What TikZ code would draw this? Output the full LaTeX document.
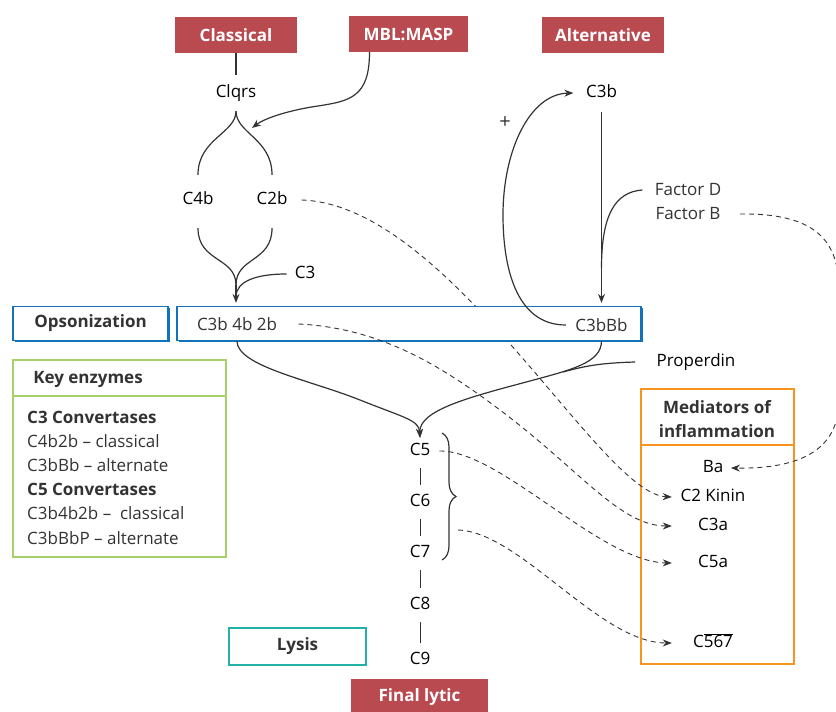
\documentclass[tikz,border=0pt]{standalone}
\usepackage{fontspec}
\setmainfont{Open Sans}
\usetikzlibrary{arrows.meta,shadows,decorations.pathreplacing}
\definecolor{pathred}{HTML}{B94A4F}
\definecolor{opblue}{HTML}{1273BA}
\definecolor{keygreen}{HTML}{A6D06A}
\definecolor{lysteal}{HTML}{22B1A6}
\definecolor{medorange}{HTML}{F7941D}
\definecolor{ink}{HTML}{333333}
\tikzset{
>={Stealth[length=9pt,width=7pt]},
every node/.style={font=\fontsize{17}{20}\selectfont, text=ink},
pathway/.style={fill=pathred, text=white, font=\fontsize{17}{20}\selectfont\bfseries, minimum height=36pt, inner sep=0pt},
bluebox/.style={draw=opblue, line width=1.2pt, fill=white, minimum height=34pt, drop shadow={shadow xshift=1.5pt, shadow yshift=-1.5pt, fill=opblue, opacity=1}},
infobox/.style={line width=1.2pt, inner sep=0pt},
flow/.style={draw=ink, line width=1.2pt},
link/.style={draw=ink, line width=1pt, shorten <=9pt, shorten >=9pt},
react/.style={draw=ink, dash pattern=on 5pt off 4pt, line width=0.9pt},
comp/.style={text=black, inner sep=0pt, text height=13pt, text depth=3.5pt},
mediator/.style={comp, minimum width=82pt},
}

\begin{document}
\begin{tikzpicture}[x=1pt,y=-1pt]
        \useasboundingbox (0,0) rectangle (836,712);

        \node[pathway, minimum width=122pt] (classical) at (236,35) {Classical};
        \node[pathway, minimum width=119pt] (mbl) at (408.5,34) {MBL:MASP};
        \node[pathway, minimum width=122pt] (alternative) at (603,35) {Alternative};
        \node[pathway, minimum width=137pt] (finallytic) at (419.5,697) {Final lytic};

        \node[infobox, draw=medorange, minimum width=153pt, minimum height=275pt] (mediators) at (717.5,526.5) {};
        \draw[medorange, line width=1.2pt] (mediators.west |- 0,445) -- (mediators.east |- 0,445);
        \node[align=center, font=\fontsize{17}{24}\selectfont\bfseries] (medhead) at (717,419) {Mediators of\\inflammation};
        \node[comp] (ba) at (713,468) {Ba};
        \node[mediator] (kinin) at (713,497) {C2 Kinin};
        \node[mediator] (c3a) at (713,526) {C3a};
        \node[mediator] (c5a) at (713,563) {C5a};
        \node[mediator] (c567) at (713,643) {C$\overline{\hbox{567}}$};

        \node[comp] (clqrs) at (236,93) {Clqrs};
        \node[comp] (c4b) at (198,200) {C4b};
        \node[comp] (c2b) at (272,200) {C2b};
        \node[comp, inner sep=8pt] (c3) at (305,274) {C3};
        \coordinate (join) at (236,285);
        \coordinate (c3in) at (236,297);
        \coordinate (mblin) at (252,128);

        \draw[react,->] ([xshift=14pt]c2b.east) .. controls (450,205) and (600,494) .. (kinin.west);

        \node[bluebox, minimum width=155pt, font=\fontsize{17}{20}\selectfont\bfseries] (opson) at (90.5,323.5) {Opsonization};
        \node[bluebox, minimum width=464pt] (convbox) at (409,323.5) {};
        \node (c3b4b2b) at (237,324) {C3b 4b 2b};
        \node (c3bbb) at (601.5,325) {C3bBb};

        \draw[flow, shorten >=9.75pt] (classical) -- (clqrs);
        \draw[flow,->] ([xshift=-39pt]mbl.south) .. controls +(0,45) and (350,101) .. (318,106) .. controls (290,110) and (265,118) .. (mblin);
        \draw[flow] ([yshift=-9.75pt]clqrs.south) .. controls +(0,22) and +(0,-36) .. ([yshift=16.75pt]c4b.north);
        \draw[flow] ([yshift=-9.75pt]clqrs.south) .. controls +(0,22) and +(0,-36) .. ([yshift=16.75pt]c2b.north);
        \draw[flow] ([yshift=-19.75pt]c4b.south) .. controls +(0,34) and +(0,-28) .. (join);
        \draw[flow] ([yshift=-19.75pt]c2b.south) .. controls +(0,34) and +(0,-28) .. (join);
        \draw[flow] (c3.west) .. controls +(-30,0) and +(0,-16) .. (c3in);
        \draw[flow,->] (join) -- ([yshift=3pt]join |- convbox.north);

        \node[comp] (c3b) at (601.5,93) {C3b};
        \node (factord) at (688,190) {Factor D};
        \node (factorb) at (688,214) {Factor B};
        \coordinate (fdin) at (601.5,268);
        \node[font=\fontsize{20}{22}\selectfont] (plus) at (505,123) {+};
        \draw[flow,->] ([yshift=-10.75pt]c3b.south) -- ([yshift=3pt]c3b |- convbox.north);
        \draw[flow] ([xshift=-9pt]factord.west) .. controls (615,192) and (601.5,215) .. (fdin);
        \draw[flow,->] ([xshift=-6pt]c3bbb.west) .. controls (515,325) and (503,265) .. (503,215) .. controls (503,150) and (530,94) .. ([xshift=-12.5pt]c3b.west);

        \foreach \n/\y in {5/451,6/502,7/553,8/605,9/660}
            \node[comp] (c\n) at (420,\y) {C\n};
        \foreach \a/\b in {5/6,6/7,7/8,8/9}
            \draw[link] (c\a) -- (c\b);
        \draw[flow, decorate, decoration={brace, amplitude=14pt}] (442,433) -- (442,560);
        \coordinate (c7out) at (458,530);

        \node[text=black] (properdin) at (696,362) {Properdin};
        \coordinate (pmerge) at (563,372);
        \draw[flow,->] (c3b4b2b.south |- convbox.south) .. controls +(0,25) and (310,380) .. (360,400) .. controls (405,418) and (419,420) .. ([yshift=4.75pt]c5.north);
        \draw[flow,->] (c3bbb.south |- convbox.south) .. controls +(0,22) and (570,370) .. (530,381) .. controls (470,397) and (419,410) .. ([yshift=4.75pt]c5.north);
        \draw[flow] ([xshift=-18pt]properdin.west) .. controls (600,363) and (585,366) .. (pmerge);

        \node[infobox, draw=keygreen, minimum width=213pt, minimum height=197pt] (keyenz) at (119.5,458.5) {};
        \draw[keygreen, line width=1.2pt] (keyenz.west |- 0,396) -- (keyenz.east |- 0,396);
        \node[font=\fontsize{17}{20}\selectfont\bfseries] (keyhead) at (88,379) {Key enzymes};
        \node[anchor=north west, align=left, inner sep=0pt, font=\fontsize{17}{24.2}\selectfont] (keytext) at (27,410.5) {\textbf{C3 Convertases}\\C4b2b -- classical\\C3bBb -- alternate\\\textbf{C5 Convertases}\\C3b4b2b -- \ classical\\C3bBbP -- alternate};

        \node[infobox, draw=lysteal, minimum width=137pt, minimum height=37pt, font=\fontsize{17}{20}\selectfont\bfseries] (lysis) at (297.5,646.5) {Lysis};

        \draw[react,->] ([xshift=18pt]c3b4b2b.east) .. controls (380,328) and (440,365) .. (500,410) .. controls (580,470) and (620,526) .. (c3a.west);
        \draw[react,->] ([xshift=9pt]c5.east) .. controls (500,450) and (600,562) .. (c5a.west);
        \draw[react,->] (c7out) .. controls (520,532) and (600,643) .. (c567.west);
        \draw[react,->] ([xshift=16pt]factorb.east) .. controls (815,213) and (839,240) .. (839,290) -- (839,400) .. controls (839,450) and (800,469) .. ([xshift=7.5pt]ba.east);

    \end{tikzpicture}
\end{document}
